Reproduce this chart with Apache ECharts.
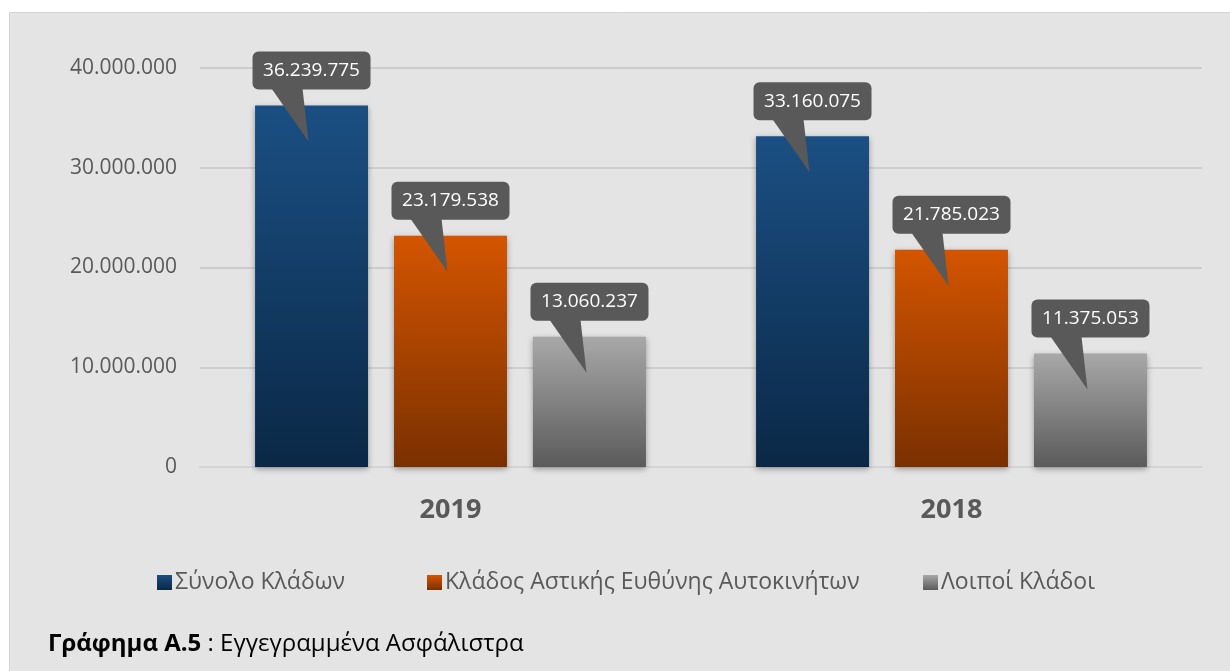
<!DOCTYPE html>
<html>
<head>
<meta charset="utf-8">
<script src="https://cdn.jsdelivr.net/npm/echarts@6/dist/echarts.min.js"></script>
<style>
  html, body { margin: 0; padding: 0; background: #fff; }
  #chart { width: 1230px; height: 671px; }
</style>
</head>
<body>
<div id="chart"></div>
<script>
  const years = ['2019', '2018']
  const seriesNames = ['Σύνολο Κλάδων', 'Κλάδος Αστικής Ευθύνης Αυτοκινήτων', 'Λοιποί Κλάδοι']
  const totalBranches = [36239775, 33160075]
  const motorLiability = [23179538, 21785023]
  const otherBranches = [13060237, 11375053]
  const yTicks = [0, 10000000, 20000000, 30000000, 40000000]

  const seriesValues = [totalBranches, motorLiability, otherBranches]
  const gradients = [
      ['#1b4f83', '#0a2846'],
      ['#d45500', '#7a3000'],
      ['#a8a8a8', '#5b5b5b']
  ]
  const legendLeft = [152, 422, 918]

  const fmt = v => String(v).replace(/\B(?=(\d{3})+(?!\d))/g, '.')

  const grad = c => new echarts.graphic.LinearGradient(0, 0, 0, 1, [
      { offset: 0, color: c[0] },
      { offset: 1, color: c[1] }
  ])

  // callouts data: [category index, value, series index]
  const calloutData = []
  seriesValues.forEach((vals, s) => {
      vals.forEach((v, i) => calloutData.push([i, v, s]))
  })

  const chart = echarts.init(document.getElementById('chart'))

  const barSeries = seriesNames.map((name, s) => ({
      name: name,
      type: 'bar',
      barWidth: '22.55%',
      barGap: '23%',
      data: seriesValues[s],
      itemStyle: {
          color: grad(gradients[s]),
          shadowBlur: 6,
          shadowColor: 'rgba(0,0,0,0.35)',
          shadowOffsetY: 2
      }
  }))

  chart.setOption({
      backgroundColor: '#ffffff',
      animation: false,
      textStyle: { fontFamily: '"Open Sans", sans-serif' },
      graphic: [{
          type: 'rect',
          z: -10,
          shape: { x: 9.5, y: 12.5, width: 1230, height: 670 },
          style: { fill: '#e4e4e4', stroke: '#d4d4d4', lineWidth: 1 }
      }, {
          type: 'text',
          left: 48,
          top: 632,
          style: {
              text: '{b|Γράφημα Α.5} : Εγγεγραμμένα Ασφάλιστρα',
              rich: {
                  b: { fontWeight: 'bold', fontSize: 24, fill: '#000', fontFamily: '"Open Sans", sans-serif' }
              },
              fontSize: 24,
              fill: '#000',
              fontFamily: '"Open Sans", sans-serif'
          }
      }],
      grid: {
          left: 200,
          right: 28,
          top: 68,
          bottom: 204
      },
      legend: seriesNames.map((name, s) => ({
          left: legendLeft[s],
          top: 566,
          icon: 'rect',
          itemWidth: 15,
          itemHeight: 15,
          data: [name],
          textStyle: { fontSize: 23, color: '#595959', padding: [0, 0, 0, -2] }
      })),
      xAxis: {
          type: 'category',
          data: years,
          axisTick: { show: false },
          axisLine: { lineStyle: { color: '#d4d4d4', width: 2 } },
          axisLabel: { fontSize: 27, fontWeight: 'bold', color: '#595959', margin: 30 }
      },
      yAxis: {
          type: 'value',
          min: yTicks[0],
          max: yTicks[yTicks.length - 1],
          interval: yTicks[1] - yTicks[0],
          axisLine: { show: false },
          axisTick: { show: false },
          splitLine: { lineStyle: { color: '#c6c6c6', width: 1.5 } },
          axisLabel: { fontSize: 21, color: '#595959', margin: 23, formatter: fmt }
      },
      series: barSeries.concat([{
          type: 'custom',
          silent: true,
          z: 10,
          clip: false,
          data: calloutData,
          encode: { x: 0, y: 1 },
          renderItem: function(params, api) {
              const pt = api.coord([api.value(0), api.value(1)])
              const band = api.size([1, 0])[0]
              const cx = pt[0] + (api.value(2) - 1) * band * 0.2774
              const top = pt[1]
              const bw = 118, bh = 38
              const by = top - 16 - bh
              return {
                  type: 'group',
                  children: [{
                      type: 'rect',
                      shape: { x: cx - bw / 2, y: by, width: bw, height: bh, r: 6 },
                      style: { fill: '#595959' }
                  }, {
                      type: 'polygon',
                      shape: { points: [[cx - 40, top - 17], [cx - 9, top - 17], [cx - 3, top + 36]] },
                      style: { fill: '#595959' }
                  }, {
                      type: 'text',
                      style: {
                          text: fmt(api.value(1)),
                          x: cx,
                          y: by + bh / 2,
                          align: 'center',
                          verticalAlign: 'middle',
                          fill: '#ffffff',
                          fontSize: 19,
                          fontFamily: '"Open Sans", sans-serif'
                      }
                  }]
              }
          }
      }])
  })
</script>
</body>
</html>
